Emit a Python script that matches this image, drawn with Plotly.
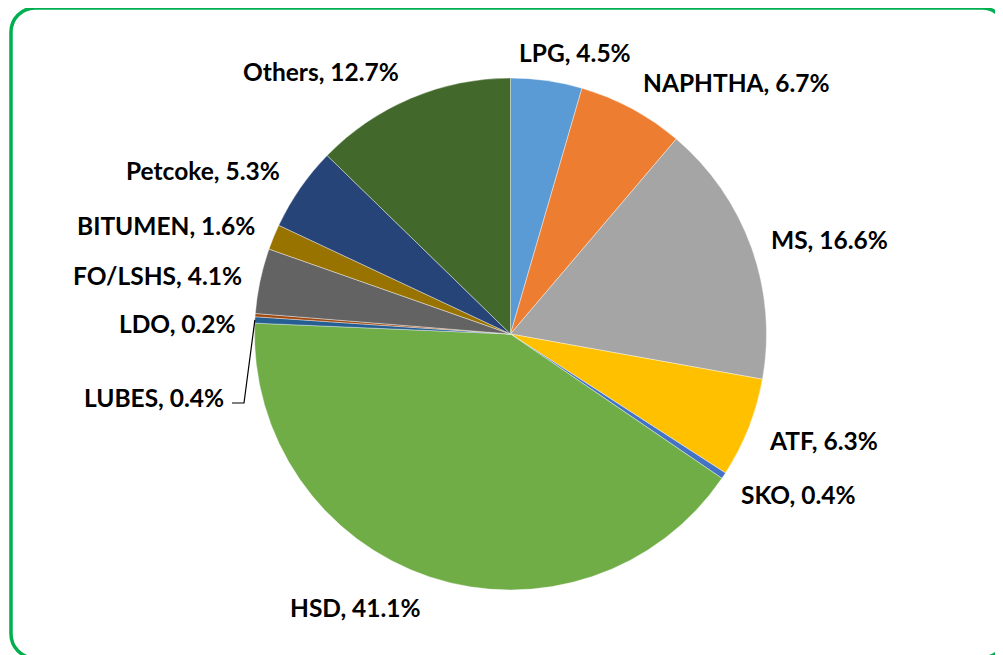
import plotly.graph_objects as go
import math

# ---- data ----
categories = ["LPG", "NAPHTHA", "MS", "ATF", "SKO", "HSD", "LUBES", "LDO",
              "FO/LSHS", "BITUMEN", "Petcoke", "Others"]
shares = [4.5, 6.7, 16.6, 6.3, 0.4, 41.1, 0.4, 0.2, 4.1, 1.6, 5.3, 12.7]

# ---- style ----
colors = ["#5B9BD5", "#ED7D31", "#A5A5A5", "#FFC000", "#4472C4", "#70AD47",
          "#255E91", "#9E480E", "#636363", "#997300", "#264478", "#43682B"]
# label centres in screen pixels (layout only)
label_px = [(575, 52), (736, 82), (829, 239), (823, 440), (798, 494), (355, 607),
            (154, 397), (177, 323), (157, 275), (166, 225), (203, 170), (321, 71)]

W, H = 1003, 655
OFF = 8  # page body margin offset
CX, CY, R = 510.5, 334.0, 256.0


def px(x):
    return (x - OFF) / W


def py(y):
    return 1 - (y - OFF) / H


fig = go.Figure(go.Pie(
    labels=categories, values=shares, sort=False, direction="clockwise",
    rotation=0, marker=dict(colors=colors, line=dict(color="white", width=0.4)),
    textinfo="none", hoverinfo="label+value", showlegend=False,
    domain=dict(x=[px(CX - R), px(CX + R)], y=[py(CY + R), py(CY - R)]),
))

font = dict(family="Lato, 'Liberation Sans', sans-serif", size=24.5, color="#000000", weight="bold")
for name, val, (lx, ly) in zip(categories, shares, label_px):
    fig.add_annotation(x=px(lx), y=py(ly), xref="paper", yref="paper",
                       text=f"{name}, {val}%", showarrow=False,
                       xanchor="center", yanchor="middle", font=font)

# leader line for LUBES computed from slice mid-angle
total = sum(shares)
idx = categories.index("LUBES")
cum = sum(shares[:idx]) + shares[idx] / 2
theta = 2 * math.pi * cum / total
ex, ey = CX + R * math.sin(theta), CY - R * math.cos(theta)
lx, ly = label_px[idx]
path = (f"M {px(232)} {py(ly + 6)} L {px(244)} {py(ly + 6)} "
        f"L {px(ex)} {py(ey)}")
fig.add_shape(type="path", path=path, xref="paper", yref="paper",
              line=dict(color="#000000", width=1.2))

# rounded green frame
x0, y0, x1, y1, rr = 11, 8, 1006, 658, 24
k = 0.5523 * rr
frame = (f"M {px(x0 + rr)} {py(y0)} L {px(x1 - rr)} {py(y0)} "
         f"C {px(x1 - rr + k)} {py(y0)} {px(x1)} {py(y0 + rr - k)} {px(x1)} {py(y0 + rr)} "
         f"L {px(x1)} {py(y1 - rr)} "
         f"C {px(x1)} {py(y1 - rr + k)} {px(x1 - rr + k)} {py(y1)} {px(x1 - rr)} {py(y1)} "
         f"L {px(x0 + rr)} {py(y1)} "
         f"C {px(x0 + rr - k)} {py(y1)} {px(x0)} {py(y1 - rr + k)} {px(x0)} {py(y1 - rr)} "
         f"L {px(x0)} {py(y0 + rr)} "
         f"C {px(x0)} {py(y0 + rr - k)} {px(x0 + rr - k)} {py(y0)} {px(x0 + rr)} {py(y0)} Z")
fig.add_shape(type="path", path=frame, xref="paper", yref="paper",
              line=dict(color="#00B050", width=3.5))

fig.update_layout(width=W, height=H, margin=dict(l=0, r=0, t=0, b=0),
                  paper_bgcolor="white", plot_bgcolor="white")
fig.write_html("out.html")
